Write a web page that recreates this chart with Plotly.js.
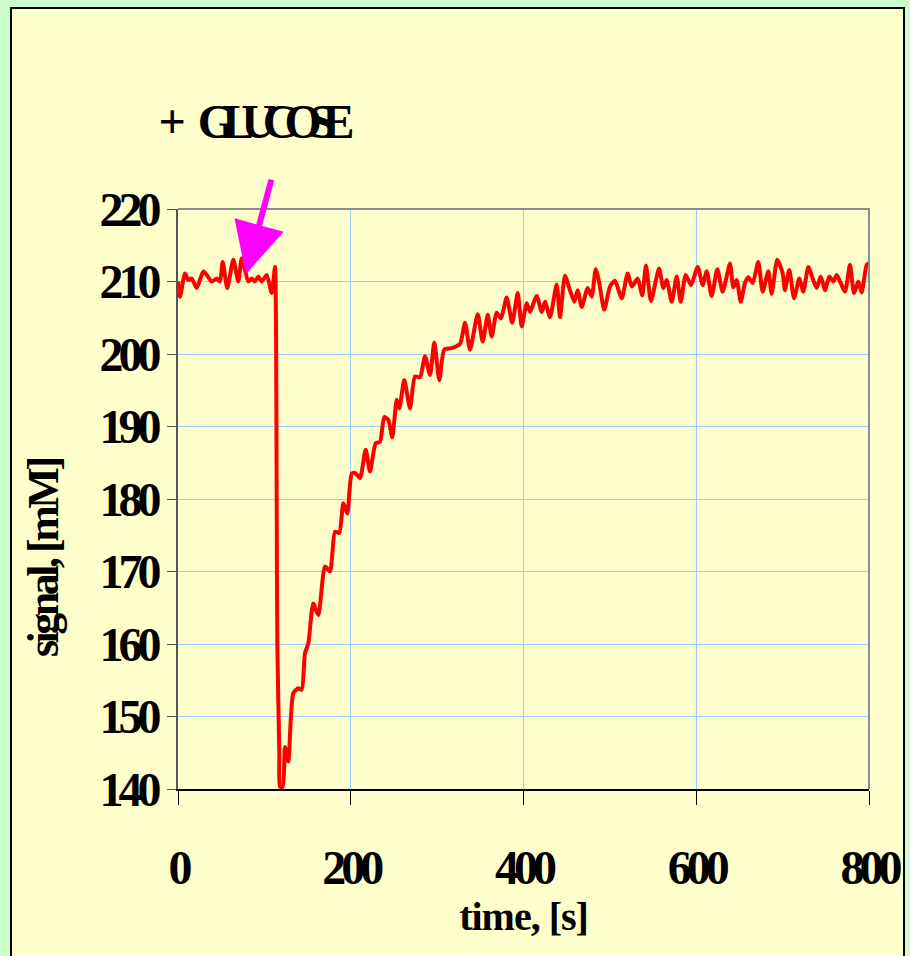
<!DOCTYPE html>
<html>
<head>
<meta charset="utf-8">
<script src="https://cdn.plot.ly/plotly-3.0.1.min.js"></script>
<style>
  html, body { margin: 0; padding: 0; background: #CCFFCC; }
  #chart { width: 910px; height: 956px; }
  .xtick text, .ytick text { letter-spacing: -5px; }
  .xtitle { letter-spacing: -1px; }
  .annotation-text { letter-spacing: -3.5px; }
</style>
</head>
<body>
<div id="chart"></div>
<script>
// time in seconds
const timeS = [
  0, 2.3, 8.1, 11.9, 15.9, 21.6, 29.3, 33.2, 39.0, 44.8,
  48.6, 51.8, 57.1, 64.0, 69.8, 73.7, 77.6, 81.4, 85.3, 89.1,
  93.0, 96.9, 102.7, 108.5, 112.3,
  113.5, 114.3, 115.0, 117.3, 118.1,
  121.2, 123.9, 127.7, 130.5, 133.5, 139.3, 143.2, 147.0, 150.9, 156.6,
  162.4, 170.2, 176.0, 181.8, 186.7, 191.4, 196.0,
  201.1, 204.9, 210.7, 217.3, 222.3, 228.9, 233.9, 238.8, 243.5, 248.1,
  253.2, 256.2, 262.0, 268.6, 274.4, 280.2, 286.0, 291.8, 296.7, 302.5,
  308.3, 316.9, 326.5, 332.3, 338.1, 347.0, 352.8, 358.6, 363.2, 369.0,
  374.0, 380.5, 387.0, 393.3, 397.9, 403.7, 407.5,
  415.3, 421.1, 424.9, 430.7, 438.4, 442.3, 448.0, 453.8, 458.8, 462.7,
  467.4, 474.3, 479.0, 483.6, 487.4, 493.5, 500.1, 505.9, 513.7, 520.6,
  525.3, 532.2, 537.5, 541.8, 547.6, 556.9, 561.9, 565.8, 571.6, 577.4,
  582.0, 587.8, 593.9, 601.7,
  607.5, 612.1, 617.9, 624.4, 630.6, 639.1, 642.9, 646.8, 651.5, 656.4,
  660.3, 665.4, 671.8, 676.9, 683.4, 687.3, 693.8, 700.1, 702.7, 707.7,
  713.2, 719.3, 723.9, 729.7, 734.8, 739.4, 744.1, 749.1, 754.0, 758.7,
  762.6, 767.2, 772.2, 778.0, 782.6, 787.6, 791.5, 797.3, 800
];
// signal in mM
const signalMM = [
  210.0, 207.9, 211.1, 210.2, 210.4, 209.1, 211.4, 210.9, 210.0, 210.4,
  210.0, 212.7, 209.1, 213.0, 210.0, 213.2, 211.6, 210.0, 210.4, 210.0,
  210.7, 210.0, 210.9, 208.4, 212.0,
  203.0, 178.0, 160.0, 145.0, 140.3,
  140.3, 145.8, 143.8, 149.5, 153.2, 153.9, 153.7, 158.7, 160.1, 165.6,
  164.0, 170.7, 170.0, 175.5, 175.3, 179.4, 178.0,
  183.5, 183.6, 182.9, 186.8, 183.8, 187.7, 187.9, 191.3, 190.9, 188.5,
  193.7, 192.5, 196.4, 192.5, 196.9, 196.8, 199.7, 197.1, 201.6, 196.4,
  200.6, 200.8, 201.4, 204.3, 200.6, 205.5, 201.7, 205.4, 202.4, 205.7,
  204.9, 207.8, 204.3, 208.4, 203.8, 207.0, 205.8,
  208.0, 205.8, 207.2, 205.1, 209.6, 205.1, 210.8, 208.8, 207.2, 208.8,
  206.5, 209.1, 207.9, 211.7, 210.0, 206.1, 209.3, 210.1, 207.7, 211.1,
  209.3, 210.4, 208.1, 212.2, 207.3, 211.8, 209.1, 210.2, 207.2, 210.7,
  207.2, 210.9, 209.5, 212.0,
  209.5, 211.4, 208.0, 211.7, 208.6, 212.5, 209.2, 210.2, 207.2, 209.8,
  210.6, 209.8, 212.7, 208.6, 211.4, 208.3, 213.0, 211.1, 208.8, 211.6,
  207.7, 210.4, 208.6, 212.0, 210.4, 209.1, 210.7, 208.8, 210.7, 210.0,
  210.9, 209.8, 208.6, 212.3, 208.4, 210.0, 208.5, 212.3, 212.5
];
const xTicks = [0, 200, 400, 600, 800];
const yTicks = [140, 150, 160, 170, 180, 190, 200, 210, 220];
const injectionTime = 78.5;
const injectionSignal = 211.0;

const FONT = '"Liberation Serif", "Times New Roman", serif';

const trace = {
  type: 'scatter',
  mode: 'lines',
  x: timeS,
  y: signalMM,
  line: { color: '#FF0000', width: 4, shape: 'spline', smoothing: 0.6 },
  hoverinfo: 'x+y'
};

const layout = {
  width: 910,
  height: 956,
  paper_bgcolor: '#CCFFCC',
  plot_bgcolor: '#FFFFCC',
  margin: { l: 178, r: 41, t: 209, b: 167, pad: 0 },
  showlegend: false,
  title: {
    text: '+ <span style="letter-spacing:-13px">GLUCOSE</span>',
    font: { family: FONT, size: 48, color: '#000', weight: 'bold' },
    xref: 'container', yref: 'container',
    x: 250 / 910, xanchor: 'center',
    y: 1 - 121 / 956, yanchor: 'middle'
  },
  xaxis: {
    range: [0, 800],
    tickvals: xTicks,
    ticktext: xTicks.map(String),
    showgrid: true,
    gridcolor: '#99CCFF',
    gridwidth: 1,
    zeroline: false,
    showline: true,
    linecolor: '#000000',
    linewidth: 1.5,
    ticks: 'outside',
    ticklen: 14,
    tickwidth: 1,
    tickcolor: '#000000',
    ticklabelstandoff: 22,
    tickfont: { family: FONT, size: 48, color: '#000', weight: 'bold' },
    title: {
      text: 'time, [s]',
      font: { family: FONT, size: 40, color: '#000', weight: 'bold' },
      standoff: 6
    },
    automargin: false,
    fixedrange: true
  },
  yaxis: {
    range: [140, 220],
    tickvals: yTicks,
    ticktext: yTicks.map(String),
    showgrid: true,
    gridcolor: '#99CCFF',
    gridwidth: 1,
    zeroline: false,
    showline: true,
    linecolor: '#555555',
    linewidth: 2,
    ticks: 'outside',
    ticklen: 9,
    tickwidth: 1,
    tickcolor: '#555555',
    ticklabelstandoff: 1,
    tickfont: { family: FONT, size: 48, color: '#000', weight: 'bold' },
    automargin: false,
    fixedrange: true
  },
  shapes: [
    {
      type: 'rect', xref: 'paper', yref: 'paper', layer: 'below',
      x0: (11 - 178) / 691, x1: (904 - 178) / 691,
      y0: (789 - 970) / 580, y1: (789 - 8) / 580,
      fillcolor: '#FFFFCC',
      line: { color: '#000000', width: 2 }
    },
    {
      type: 'path', xref: 'paper', yref: 'paper', layer: 'above',
      path: 'M 0 1 L 1 1 L 1 0',
      line: { color: '#8C8C8C', width: 2 }
    }
  ],
  annotations: [
    {
      xref: 'x', yref: 'y',
      x: injectionTime, y: injectionSignal,
      ax: 26, ay: -96,
      text: '',
      showarrow: true,
      arrowhead: 2,
      arrowsize: 1.7,
      arrowwidth: 6,
      arrowcolor: '#FF00FF',
      standoff: 0
    },
    {
      xref: 'paper', yref: 'paper',
      x: (43 - 178) / 691, y: (789 - 558) / 580,
      xanchor: 'center', yanchor: 'middle',
      text: 'signal, [mM]',
      textangle: -90,
      showarrow: false,
      font: { family: FONT, size: 44, color: '#000', weight: 'bold' }
    }
  ]
};

Plotly.newPlot('chart', [trace], layout, { displayModeBar: false, staticPlot: true });
</script>
</body>
</html>
